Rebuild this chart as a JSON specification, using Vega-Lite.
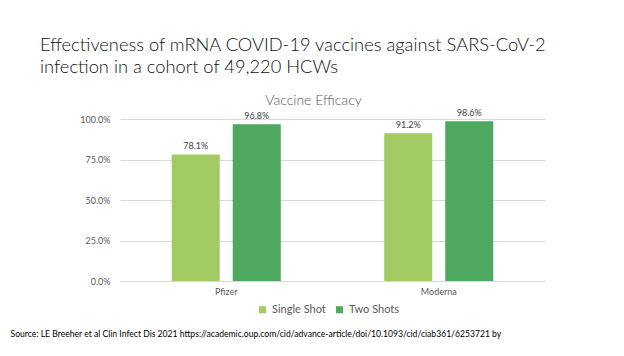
{
  "$schema": "https://vega.github.io/schema/vega-lite/v6.json",
  "width": 425,
  "height": 162,
  "autosize": "none",
  "padding": {"left": 120, "top": 119, "right": 79, "bottom": 75},
  "background": "white",
  "config": {"view": {"stroke": null}, "font": "Lato"},
  "title": {
    "text": ["Effectiveness of mRNA COVID-19 vaccines against SARS-CoV-2", "infection in a cohort of 49,220 HCWs"],
    "anchor": "start",
    "frame": "group",
    "dx": -80,
    "fontSize": 18.3,
    "font": "Lato",
    "fontWeight": 300,
    "color": "#111111",
    "lineHeight": 22,
    "offset": 16
  },
  "data": {
    "values": [
      {"vaccine": "Pfizer", "dose": "Single Shot", "eff": 0.781},
      {"vaccine": "Pfizer", "dose": "Two Shots", "eff": 0.968},
      {"vaccine": "Moderna", "dose": "Single Shot", "eff": 0.912},
      {"vaccine": "Moderna", "dose": "Two Shots", "eff": 0.986}
    ]
  },
  "encoding": {
    "xOffset": {"field": "dose", "type": "nominal", "sort": ["Single Shot", "Two Shots"], "scale": {"paddingInner": 0.213, "paddingOuter": 0.848}},
    "y": {
      "field": "eff",
      "type": "quantitative",
      "scale": {"domain": [0, 1]},
      "axis": {
        "format": ".1%",
        "values": [0, 0.25, 0.5, 0.75, 1],
        "title": null,
        "ticks": false,
        "domain": false,
        "gridColor": "#d9d9d9",
        "labelFontSize": 9,
        "labelFont": "Lato",
        "labelColor": "#595959",
        "labelPadding": 10
      }
    }
  },
  "layer": [
    {
      "mark": {"type": "bar"},
      "encoding": {
        "x": {
          "field": "vaccine",
          "type": "nominal",
          "sort": ["Pfizer", "Moderna"],
          "scale": {"paddingInner": 0, "paddingOuter": 0},
          "axis": {
            "orient": "bottom",
            "title": "Source: LE Breeher et al Clin Infect Dis 2021 https://academic.oup.com/cid/advance-article/doi/10.1093/cid/ciab361/6253721 by",
            "labelAngle": 0,
            "labelFontSize": 9,
            "labelFont": "Lato",
            "labelColor": "#595959",
            "labelPadding": 6,
            "ticks": false,
            "domainColor": "#d9d9d9",
            "titleAnchor": "start",
            "titleAlign": "left",
            "titleX": -110,
            "titleY": 52,
            "titleBaseline": "middle",
            "titleFontSize": 8.6,
            "titleFont": "Lato",
            "titleFontWeight": "normal",
            "titleColor": "#000000"
          }
        },
        "color": {
          "field": "dose",
          "type": "nominal",
          "sort": ["Single Shot", "Two Shots"],
          "scale": {"domain": ["Single Shot", "Two Shots"], "range": ["#A3CB63", "#4EA85F"]},
          "legend": {
            "orient": "none",
            "legendX": 137,
            "legendY": 185,
            "direction": "horizontal",
            "title": null,
            "symbolType": "square",
            "symbolSize": 50,
            "symbolStrokeWidth": 0,
            "labelFontSize": 11,
            "labelFont": "Lato",
            "labelColor": "#595959",
            "columnPadding": 8
          }
        }
      }
    },
    {
      "mark": {"type": "text", "dy": -8, "fontSize": 9, "font": "Lato", "color": "#404040"},
      "encoding": {
        "x": {
          "field": "vaccine",
          "type": "nominal",
          "sort": ["Pfizer", "Moderna"],
          "scale": {"paddingInner": 0, "paddingOuter": 0},
          "axis": {
            "orient": "top",
            "title": "Vaccine Efficacy",
            "labels": false,
            "ticks": false,
            "domain": false,
            "grid": false,
            "titleFontSize": 14,
            "titleFont": "Lato",
            "titleColor": "#595959",
            "titleFontWeight": 300,
            "titleX": 193,
            "titleAlign": "center",
            "titlePadding": 12
          }
        },
        "text": {"field": "eff", "type": "quantitative", "format": ".1%"}
      }
    }
  ]
}
